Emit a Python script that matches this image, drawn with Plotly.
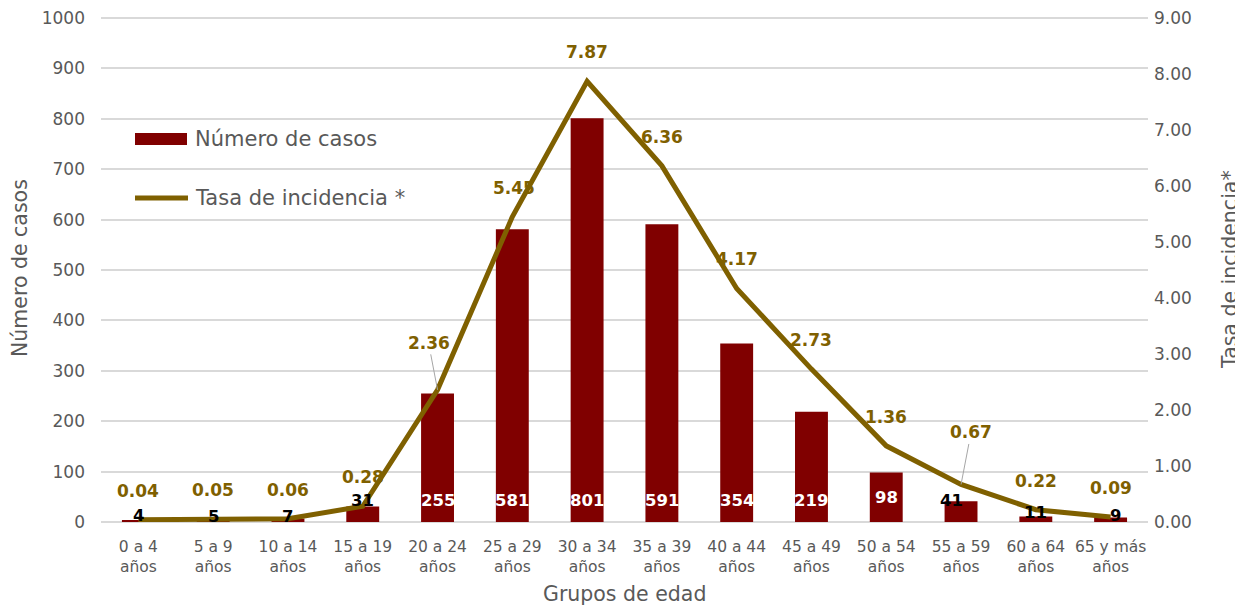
import plotly.graph_objects as go

categories = ["0 a 4<br>años", "5 a 9<br>años", "10 a 14<br>años", "15 a 19<br>años",
              "20 a 24<br>años", "25 a 29<br>años", "30 a 34<br>años", "35 a 39<br>años",
              "40 a 44<br>años", "45 a 49<br>años", "50 a 54<br>años", "55 a 59<br>años",
              "60 a 64<br>años", "65 y más<br>años"]
casos = [4, 5, 7, 31, 255, 581, 801, 591, 354, 219, 98, 41, 11, 9]
tasa = [0.04, 0.05, 0.06, 0.28, 2.36, 5.45, 7.87, 6.36, 4.17, 2.73, 1.36, 0.67, 0.22, 0.09]

OFF = 8  # page body margin
W, H = 1243 - OFF, 605 - OFF
L, R, T, B = 93, 95, 8, 83
BAR = "#800000"
LINE = "#7F6000"
GREY = "#595959"
FONT = "DejaVu Sans"

def px(x):
    return (x - OFF - L) / (W - L - R)

def py(y):
    return 1 - (y - OFF - T) / (H - T - B)

fig = go.Figure()
fig.add_trace(go.Bar(x=categories, y=casos, marker=dict(color=BAR, line=dict(width=0)),
                     width=0.44, name="Número de casos", showlegend=False, hoverinfo="skip"))
fig.add_trace(go.Scatter(x=categories, y=tasa, yaxis="y2", mode="lines",
                         line=dict(color=LINE, width=5), name="Tasa de incidencia *",
                         showlegend=False))

ann = []
# rate labels
for i, (c, v) in enumerate(zip(categories, tasa)):
    if i == 4:
        ann.append(dict(x=c, y=v, xref="x", yref="y2", text=f"<b>{v:.2f}</b>", showarrow=True,
                        ax=-9, ay=-47, arrowhead=0, arrowwidth=1, arrowcolor="#a6a6a6",
                        font=dict(color=LINE, size=17, family=FONT)))
    elif i == 11:
        ann.append(dict(x=c, y=v, xref="x", yref="y2", text=f"<b>{v:.2f}</b>", showarrow=True,
                        ax=10, ay=-52, arrowhead=0, arrowwidth=1, arrowcolor="#a6a6a6",
                        font=dict(color=LINE, size=17, family=FONT)))
    else:
        ann.append(dict(x=c, y=v, xref="x", yref="y2", text=f"<b>{v:.2f}</b>", showarrow=False,
                        yshift=29, xshift=2 if i == 5 else 0,
                        font=dict(color=LINE, size=17, family=FONT)))

# count labels
small_shift = {0: (0, 4), 1: (0, 3), 2: (0, 2), 3: (0, 6), 11: (-10, 1), 12: (0, 4), 13: (5, 2)}
for i, (c, v) in enumerate(zip(categories, casos)):
    if i in small_shift:
        xs, ys = small_shift[i]
        ann.append(dict(x=c, y=v, xref="x", yref="y", text=f"<b>{v}</b>", showarrow=False,
                        xshift=xs, yshift=ys, font=dict(color="black", size=16.5, family=FONT)))
    else:
        ann.append(dict(x=c, y=0, xref="x", yref="y", text=f"<b>{v}</b>", showarrow=False,
                        yshift=22 if v > 100 else 25,
                        font=dict(color="white", size=16.5, family=FONT)))

# manual legend
ann.append(dict(x=px(193), y=py(139), xref="paper", yref="paper", text="Número de casos",
                showarrow=False, xanchor="left", yanchor="middle",
                font=dict(color=GREY, size=21, family=FONT)))
ann.append(dict(x=px(193), y=py(198), xref="paper", yref="paper", text="Tasa de incidencia *",
                showarrow=False, xanchor="left", yanchor="middle",
                font=dict(color=GREY, size=21, family=FONT)))
# axis titles
ann.append(dict(x=px(20), y=py(268), xref="paper", yref="paper", text="Número de casos",
                showarrow=False, textangle=-90, xanchor="center", yanchor="middle",
                font=dict(color=GREY, size=20.5, family=FONT)))
ann.append(dict(x=px(1230), y=py(270), xref="paper", yref="paper", text="Tasa de incidencia*",
                showarrow=False, textangle=-90, xanchor="center", yanchor="middle",
                font=dict(color=GREY, size=20.5, family=FONT)))
ann.append(dict(x=px(624), y=py(594), xref="paper", yref="paper", text="Grupos de edad",
                showarrow=False, xanchor="center", yanchor="middle",
                font=dict(color=GREY, size=20.5, family=FONT)))
shapes = [
    dict(type="rect", xref="paper", yref="paper", x0=px(135), x1=px(187), y0=py(145), y1=py(133),
         fillcolor=BAR, line=dict(width=0)),
    dict(type="line", xref="paper", yref="paper", x0=px(135), x1=px(188), y0=py(198), y1=py(198),
         line=dict(color=LINE, width=5)),
]

fig.update_layout(
    width=W, height=H, autosize=False,
    margin=dict(l=L, r=R, t=T, b=B),
    paper_bgcolor="white", plot_bgcolor="white",
    font=dict(family=FONT, color=GREY),
    showlegend=False,
    annotations=ann, shapes=shapes,
    xaxis=dict(tickfont=dict(size=15.5, color=GREY), showgrid=False, showline=False, ticks="",
               automargin=False, ticklabelstandoff=13),
    yaxis=dict(range=[0, 1004], tick0=0, dtick=100, showgrid=True, gridcolor="#d9d9d9", gridwidth=2,
               zeroline=True, zerolinecolor="#d9d9d9", zerolinewidth=2,
               tickfont=dict(size=17, color=GREY), ticks="", automargin=False,
               ticklabelstandoff=15, ticklabeloverflow="allow"),
    yaxis2=dict(range=[0, 9.036], tick0=0, dtick=1, tickformat=".2f", overlaying="y", side="right",
                showgrid=False, zeroline=False, tickfont=dict(size=17, color=GREY), ticks="",
                automargin=False, ticklabelstandoff=5, ticklabeloverflow="allow"),
)

fig.write_html("out.html")
